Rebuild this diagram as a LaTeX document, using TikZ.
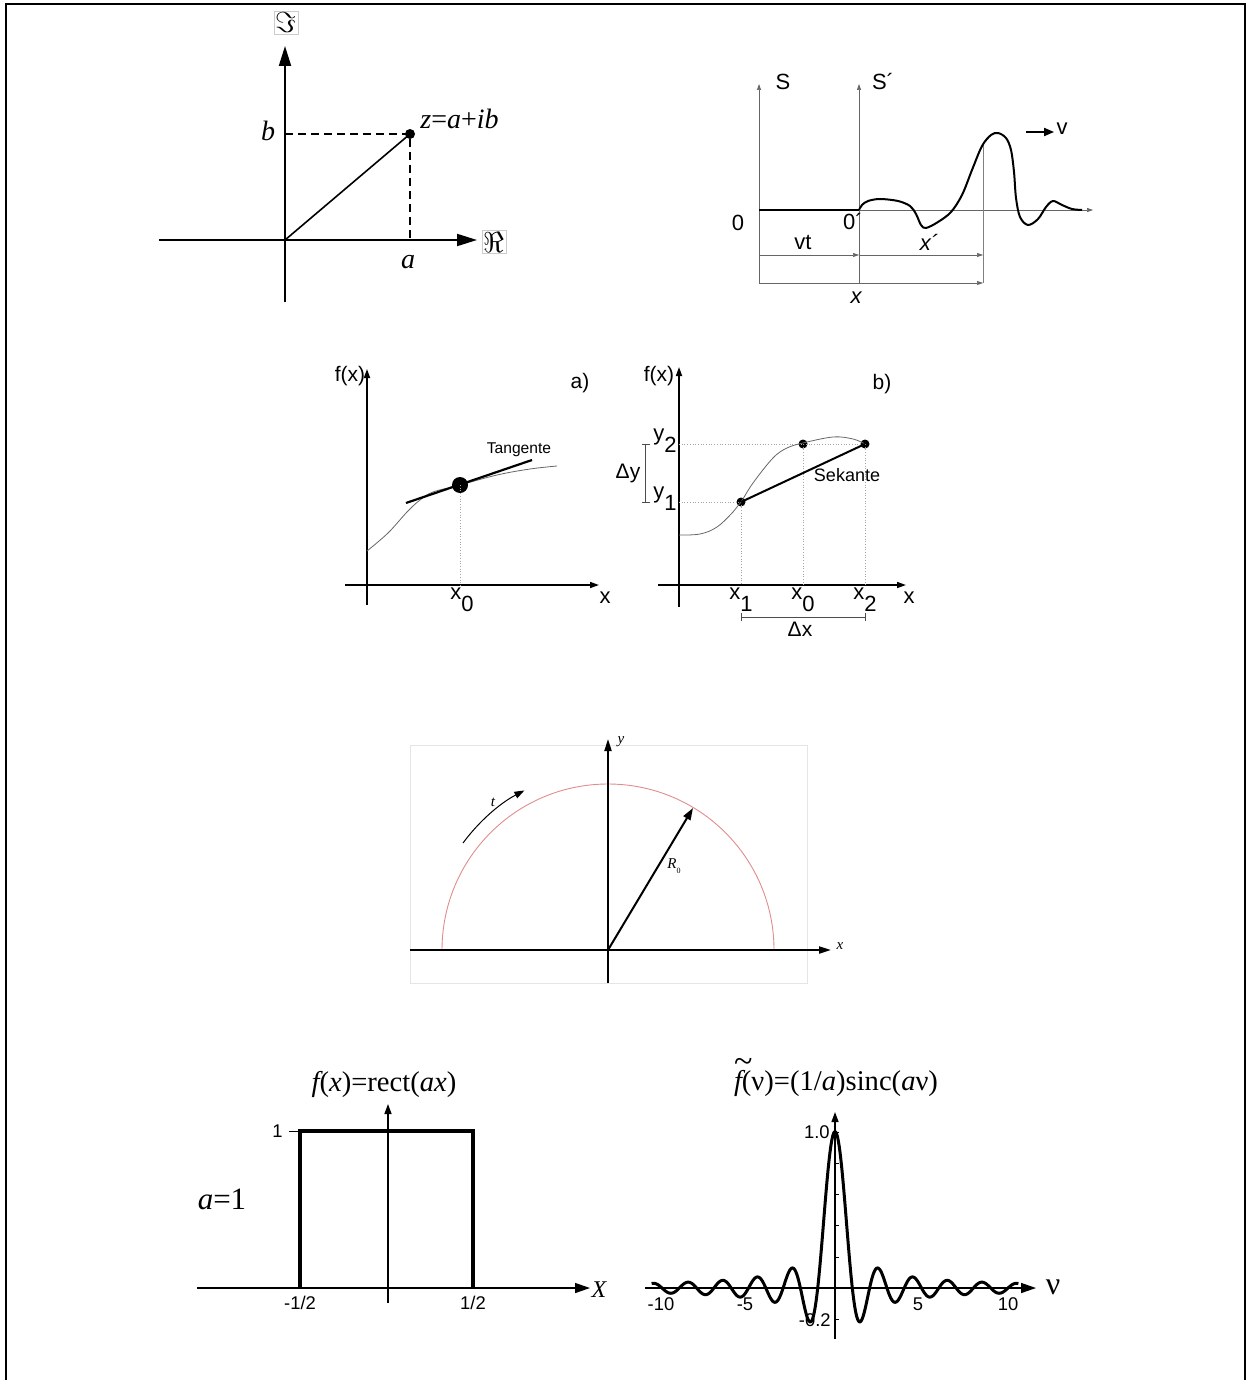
\documentclass[tikz,border=0pt]{standalone}
\usepackage{fontspec}
\setmainfont{Liberation Sans}
\newfontfamily\serifff{Liberation Serif}
\usetikzlibrary{arrows.meta}
\newcommand\fsz[1]{\fontsize{#1}{#1}\selectfont}
\definecolor{semired}{RGB}{225,140,140}
\tikzset{
  bigaxis/.style={line width=1pt,-{Triangle[length=10pt,width=6pt]}},
  thinaxis/.style={line width=0.35pt,draw=black!60,-{Triangle[length=3pt,width=2pt]}},
  dimarrow/.style={line width=0.3pt,draw=black!60,-{Triangle[length=3pt,width=2pt]}},
  midaxis/.style={line width=0.8pt,-{Triangle[length=4.5pt,width=3pt]}},
  guide/.style={line width=0.35pt,draw=black!35,densely dotted},
  semiaxis/.style={line width=1pt,-{Triangle[length=6pt,width=3.5pt]}},
  botaxis/.style={line width=0.7pt,-{Triangle[length=7.5pt,width=5pt]}},
  botyaxis/.style={line width=0.7pt,-{Triangle[length=5pt,width=3.5pt]}},
  dot/.style={circle,fill=black,inner sep=0pt,minimum size=#1},
  lbl/.style={inner sep=1pt},
}
\begin{document}
\begin{tikzpicture}[x=0.5pt,y=-0.5pt]
\useasboundingbox (0,0) rectangle (1247,1380);
% frame
\draw[line width=1pt] (6,1380) -- (6,4) -- (1245,4) -- (1245,1380);

% ===== complex plane =====
\coordinate (O1) at (285,240);
\coordinate (XL1) at (159,240);
\coordinate (XR1) at (477,240);
\coordinate (YB1) at (285,302);
\coordinate (YT1) at (285,46);
\coordinate (PB) at (285,134);
\coordinate (PA) at (410,240);
\node[dot=5pt] (P) at (410,134) {};
\draw[bigaxis] (XL1) -- (XR1);
\draw[bigaxis] (YB1) -- (YT1);
\draw[line width=0.8pt] (O1) -- (P.center);
\draw[line width=0.8pt,dash pattern=on 4pt off 2.5pt] (PB) -- (P.center) -- (PA);
\node[draw=black!20,line width=0.3pt,inner sep=0.8pt] (Im) at (286,23) {\fsz{14}$\Im$};
\node[draw=black!20,line width=0.3pt,inner sep=0.8pt] (Re) at (494,242) {\fsz{14}$\Re$};
\node[lbl,anchor=base] (lb) at (268,141) {\serifff\fsz{14}\itshape b};
\node[lbl,anchor=base] (la) at (408,268) {\serifff\fsz{14}\itshape a};
\node[lbl,anchor=base west] (lz) at (418,129) {\serifff\fsz{14}\itshape z\upshape=\itshape a\upshape+\itshape ib};

% ===== moving frame =====
\coordinate (SB) at (759,283); \coordinate (ST) at (759,84);
\coordinate (SpB) at (859,283); \coordinate (SpT) at (859,84);
\coordinate (O2) at (759,210); \coordinate (O2p) at (859,210);
\coordinate (XE2) at (1093,210);
\coordinate (D1a) at (759,255); \coordinate (D1b) at (859,255); \coordinate (D1c) at (983,255);
\coordinate (D2a) at (759,283); \coordinate (D2c) at (983,283);
\coordinate (VT) at (983,143);
\draw[thinaxis] (SB) -- (ST);
\draw[thinaxis] (SpB) -- (SpT);
\draw[thinaxis] (O2) -- (XE2);
\draw[line width=0.35pt,draw=black!50] (VT) -- (D2c);
\draw[dimarrow] (D1a) -- (D1b);
\draw[dimarrow] (D1b) -- (D1c);
\draw[dimarrow] (D2a) -- (D2c);
\draw[line width=1pt] (O2) -- (O2p);
\draw[line width=1pt,line join=round] plot[smooth,tension=0.55] coordinates {
 (859,210) (862,205) (868,201) (880,199) (898,201) (910,206) (916,214) (921,225) (926,228)
 (938,222) (951,212) (962,195) (972,170) (982,146) (991,135) (998,133) (1006,138) (1011,150)
 (1014,172) (1016,198) (1020,217) (1028,225) (1038,219) (1046,207) (1053,201) (1062,205) (1072,209) (1082,210)};
\node[lbl] (S) at (783,82) {\fsz{11}S};
\node[lbl] (Sp) at (883,82) {\fsz{11}S´};
\node[lbl] (zero) at (738,223) {\fsz{11}0};
\node[lbl] (zerop) at (853,222) {\fsz{11}0´};
\node[lbl] (vt) at (803,242) {\fsz{11}vt};
\node[lbl] (xp) at (929,242) {\fsz{11}\itshape x´};
\node[lbl] (xx) at (856,298) {\fsz{11}\itshape x};
\node[lbl] (v) at (1062,129) {\fsz{11}v};
\coordinate (VA) at (1026,132);
\draw[line width=0.9pt,-{Triangle[length=5pt,width=4pt]}] (VA) -- (v.west |- VA);

% ===== graph a) =====
\coordinate (AyB) at (367,605); \coordinate (AyT) at (367,369);
\coordinate (AxL) at (345,585); \coordinate (AxR) at (599,585);
\draw[midaxis] (AyB) -- (AyT);
\draw[midaxis] (AxL) -- (AxR);
\draw[line width=0.4pt,draw=black!60] plot[smooth,tension=0.6] coordinates {
 (367,551) (388,533) (407,512) (420,500) (433,492) (460,485) (497,475) (530,469) (557,466)};
\node[dot=8pt] (X0a) at (460,485) {};
\coordinate (TgA) at (406,503); \coordinate (TgB) at (532,460);
\draw[line width=1.1pt] (TgA) -- (TgB);
\coordinate (X0ax) at (460,585);
\draw[guide] (X0a.center) -- (X0ax);
\node[lbl] (fxa) at (350,376) {\fsz{10.5}f(x)};
\node[lbl] (la2) at (580,383) {\fsz{10.5}a)};
\node[lbl] (tang) at (519,450) {\fsz{7.8}Tangente};
\node[lbl] (x0a) at (462,600) {\fsz{11}x\raisebox{-0.55em}{0}};
\node[lbl] (xa) at (605,598) {\fsz{11}x};

% ===== graph b) =====
\coordinate (ByB) at (679,607); \coordinate (ByT) at (679,367);
\coordinate (BxL) at (658,585); \coordinate (BxR) at (906,585);
\draw[midaxis] (ByB) -- (ByT);
\draw[midaxis] (BxL) -- (BxR);
\coordinate (Y2) at (679,444); \coordinate (Y1) at (679,502);
\coordinate (X1b) at (741,585); \coordinate (X0b) at (803,585); \coordinate (X2b) at (865,585);
\node[dot=4.5pt] (P1) at (741,502) {};
\node[dot=4.5pt] (P0) at (803,444) {};
\node[dot=4.5pt] (P2) at (865,444) {};
\draw[guide] (Y2) -- (P2.center);
\draw[guide] (Y1) -- (P1.center);
\draw[guide] (P1.center) -- (X1b);
\draw[guide] (P0.center) -- (X0b);
\draw[guide] (P2.center) -- (X2b);
\draw[line width=0.4pt,draw=black!60] plot[smooth,tension=0.6] coordinates {
 (679,535) (700,534) (717,527) (733,512) (741,502) (753,483) (773,458) (787,448) (803,443) (833,437) (853,439) (865,444)};
\draw[line width=1pt] (P1.center) -- (P2.center);
% delta y bracket
\coordinate (DyT) at (645,444); \coordinate (DyB) at (645,502);
\coordinate (DyTl) at (642,444); \coordinate (DyTr) at (650,444);
\coordinate (DyBl) at (642,502); \coordinate (DyBr) at (650,502);
\draw[line width=0.4pt,draw=black!70] (DyT) -- (DyB) (DyTl) -- (DyTr) (DyBl) -- (DyBr);
% delta x bracket
\coordinate (DxL) at (741,617); \coordinate (DxR) at (865,617);
\coordinate (DxLt) at (741,613); \coordinate (DxLb) at (741,621);
\coordinate (DxRt) at (865,613); \coordinate (DxRb) at (865,621);
\draw[line width=0.4pt,draw=black!70] (DxL) -- (DxR) (DxLt) -- (DxLb) (DxRt) -- (DxRb);
\node[lbl] (fxb) at (659,376) {\fsz{10.5}f(x)};
\node[lbl] (lb2) at (882,384) {\fsz{10.5}b)};
\node[lbl] (y2) at (665,441) {\fsz{11}y\raisebox{-0.55em}{2}};
\node[lbl] (y1) at (665,499) {\fsz{11}y\raisebox{-0.55em}{1}};
\node[lbl] (dy) at (628,473) {\fsz{10.5}Δy};
\node[lbl] (sek) at (847,475) {\fsz{9}Sekante};
\node[lbl] (x1l) at (741,600) {\fsz{11}x\raisebox{-0.55em}{1}};
\node[lbl] (x0l) at (803,600) {\fsz{11}x\raisebox{-0.55em}{0}};
\node[lbl] (x2l) at (865,600) {\fsz{11}x\raisebox{-0.55em}{2}};
\node[lbl] (xb) at (909,598) {\fsz{11}x};
\node[lbl] (dx) at (800,629) {\fsz{10.5}Δx};

% ===== semicircle =====
\draw[line width=0.4pt,draw=black!10] (410,745) rectangle (807,983);
\coordinate (Oc) at (608,950);
\coordinate (CyB) at (608,983); \coordinate (CyT) at (608,739);
\coordinate (CxL) at (410,950); \coordinate (CxR) at (831,950);
\draw[line width=0.45pt,draw=semired] (442,950) arc[start angle=-180,end angle=0,radius=166];
\draw[semiaxis] (CyB) -- (CyT);
\draw[semiaxis] (CxL) -- (CxR);
\coordinate (Rtip) at (693,808);
\draw[line width=1pt,-{Triangle[length=6pt,width=4pt]}] (Oc) -- (Rtip);
\draw[line width=0.5pt,-{Triangle[length=5pt,width=3.5pt]}] (463,843) arc[start angle=-143.6,end angle=-117.5,radius=179];
\node[lbl] (ly) at (621,742) {\serifff\fsz{7.5}\itshape y};
\node[lbl] (lx) at (840,946) {\serifff\fsz{7.5}\itshape x};
\node[lbl] (lt) at (493,802) {\serifff\fsz{7.5}\itshape t};
\node[lbl] (lR) at (674,866) {\serifff\fsz{7.5}\itshape R\raisebox{-0.3em}{\fsz{4}\upshape 0}};

% ===== rect =====
\coordinate (RyB) at (388,1303); \coordinate (RyT) at (388,1104);
\coordinate (RxL) at (197,1288); \coordinate (RxR) at (590,1288);
\draw[botyaxis] (RyB) -- (RyT);
\draw[botaxis] (RxL) -- (RxR);
\coordinate (R1) at (300,1288); \coordinate (R2) at (300,1131);
\coordinate (R3) at (473,1131); \coordinate (R4) at (473,1288);
\draw[line width=1.6pt,line join=miter] (R1) -- (R2) -- (R3) -- (R4);
\coordinate (T1) at (289,1131);
\draw[line width=0.4pt] (T1) -- (R2);
\node[lbl] (rt) at (384,1084) {\serifff\fsz{14.3}\itshape f\upshape(\itshape x\upshape)=rect(\itshape ax\upshape)};
\node[lbl] (a1) at (222,1199) {\serifff\fsz{15.5}\itshape a\upshape=1};
\node[lbl,anchor=east] (one) at (285,1131) {\fsz{9.2}1};
\node[lbl] (mh) at (300,1303) {\fsz{9.2}-1/2};
\node[lbl] (ph) at (473,1303) {\fsz{9.2}1/2};
\node[lbl] (lX) at (599,1290) {\serifff\fsz{12}\itshape X};

% ===== sinc =====
\coordinate (SyB) at (835,1339); \coordinate (SyT) at (835,1112);
\coordinate (SxL) at (645,1288); \coordinate (SxR) at (1036,1288);
\draw[botyaxis] (SyB) -- (SyT);
\draw[botaxis] (SxL) -- (SxR);
\foreach \yy in {1132,1163,1194,1225,1257,1319} {
  \draw[line width=0.4pt] (835,\yy) -- (839,\yy);
}
\draw[line width=1.5pt,line join=round] plot[domain=-10.6:10.6,samples=400] ({835+17.3*\x},{1288-156.5*sin(180*\x)/(pi*\x)});
\node[lbl] (st) at (836,1083) {\serifff\fsz{14.3}\rlap{\hspace{0.0em}\smash{\raisebox{0.62em}{\fsz{17}\textasciitilde}}}\itshape f\upshape(ν)=(1/\itshape a\upshape)sinc(\itshape a\upshape ν)};
\node[lbl] (nu) at (1053,1287) {\serifff\fsz{16}ν};
\node[lbl,anchor=east] (l10) at (832,1132) {\fsz{9.2}1.0};
\node[lbl,anchor=east] (lm02) at (833,1320) {\fsz{9.2}-0.2};
\node[lbl] (lm10) at (661,1304) {\fsz{9.2}-10};
\node[lbl] (lm5) at (745,1304) {\fsz{9.2}-5};
\node[lbl] (l5) at (918,1304) {\fsz{9.2}5};
\node[lbl] (l10b) at (1008,1304) {\fsz{9.2}10};
\end{tikzpicture}
\end{document}
